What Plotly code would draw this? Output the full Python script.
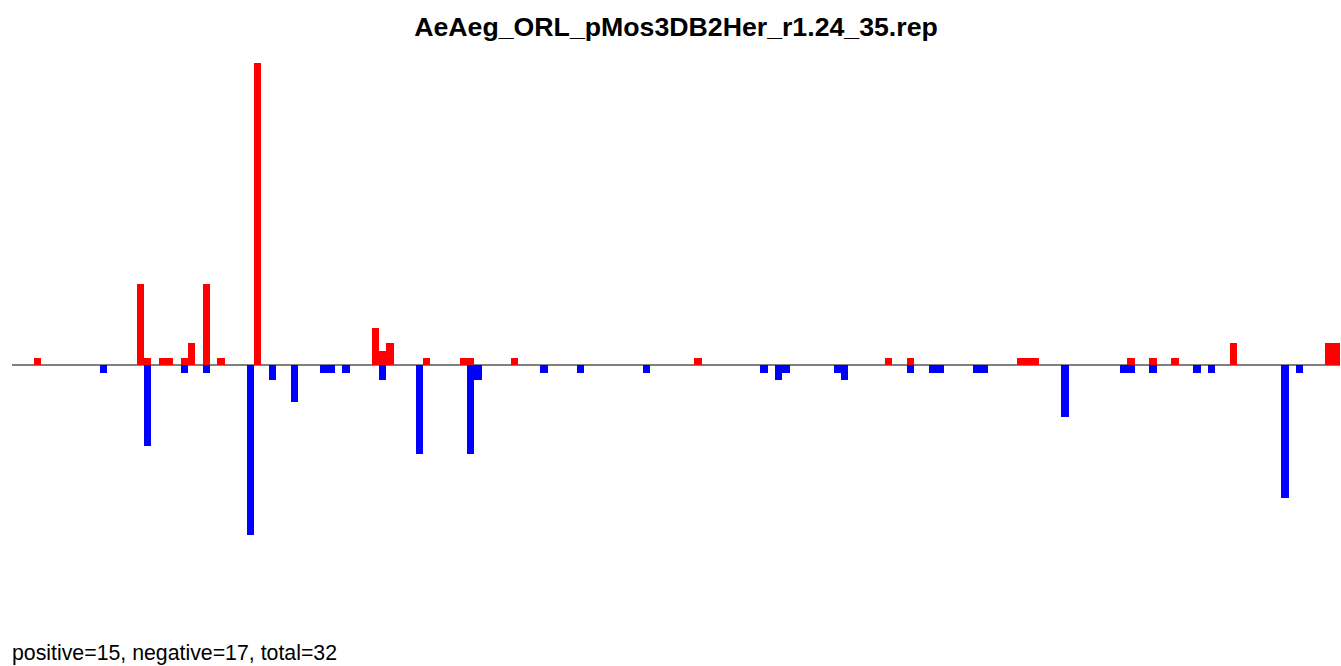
import plotly.graph_objects as go

title_text = "AeAeg_ORL_pMos3DB2Her_r1.24_35.rep"
footer_text = "positive=15, negative=17, total=32"
n_slots = 181

pos_x = [3, 17, 18, 20, 21, 23, 24, 26, 28, 33, 49, 50, 51, 56, 61, 62, 68, 93,
         119, 122, 137, 138, 139, 152, 155, 158, 166, 179, 180]
pos_y = [1, 11, 1, 1, 1, 1, 3, 11, 1, 41, 5, 2, 3, 1, 1, 1, 1, 1,
         1, 1, 1, 1, 1, 1, 1, 1, 3, 3, 3]

neg_x = [12, 18, 23, 26, 32, 35, 38, 42, 43, 45, 50, 55, 62, 63, 72, 77, 86,
         102, 104, 105, 112, 113, 122, 125, 126, 131, 132, 143, 151, 152, 155,
         161, 163, 173, 175]
neg_y = [-1, -11, -1, -1, -23, -2, -5, -1, -1, -1, -2, -12, -12, -2, -1, -1, -1,
         -1, -2, -1, -1, -2, -1, -1, -1, -1, -1, -7, -1, -1, -1,
         -1, -1, -18, -1]

fig = go.Figure()
fig.add_trace(go.Bar(x=pos_x, y=pos_y, marker=dict(color="#FF0000", line=dict(width=0)),
                     width=1.0, showlegend=False))
fig.add_trace(go.Bar(x=neg_x, y=neg_y, marker=dict(color="#0000FF", line=dict(width=0)),
                     width=1.0, showlegend=False))

font_family = "Liberation Sans, Arial, Helvetica, sans-serif"

W, H = 1341, 666
fig.update_layout(
    width=W, height=H,
    margin=dict(l=12, r=1, t=41, b=109, pad=0),
    paper_bgcolor="white", plot_bgcolor="white",
    barmode="overlay", bargap=0,
    title=dict(text="<b>" + title_text + "</b>", x=0.5, xanchor="center",
               xref="paper", y=1 - 27 / H, yanchor="middle", yref="container",
               font=dict(family=font_family, size=26.7, color="black")),
    xaxis=dict(range=[-0.5, n_slots - 0.5], showgrid=False, showticklabels=False,
               zeroline=False, showline=False, ticks=""),
    yaxis=dict(range=[-26, 44], showgrid=False, showticklabels=False,
               zeroline=True, zerolinecolor="#808080", zerolinewidth=1.5,
               showline=False, ticks=""),
    annotations=[dict(text=footer_text, xref="paper", yref="paper",
                      x=-2 / 1328, y=(557 - 652.5) / 516, xanchor="left", yanchor="middle",
                      showarrow=False, font=dict(family=font_family, size=21.3, color="black"))],
)

fig.write_html(
    "out.html",
    config={"displayModeBar": False},
    post_script="document.body.style.margin='0';document.body.style.overflow='hidden';",
)
